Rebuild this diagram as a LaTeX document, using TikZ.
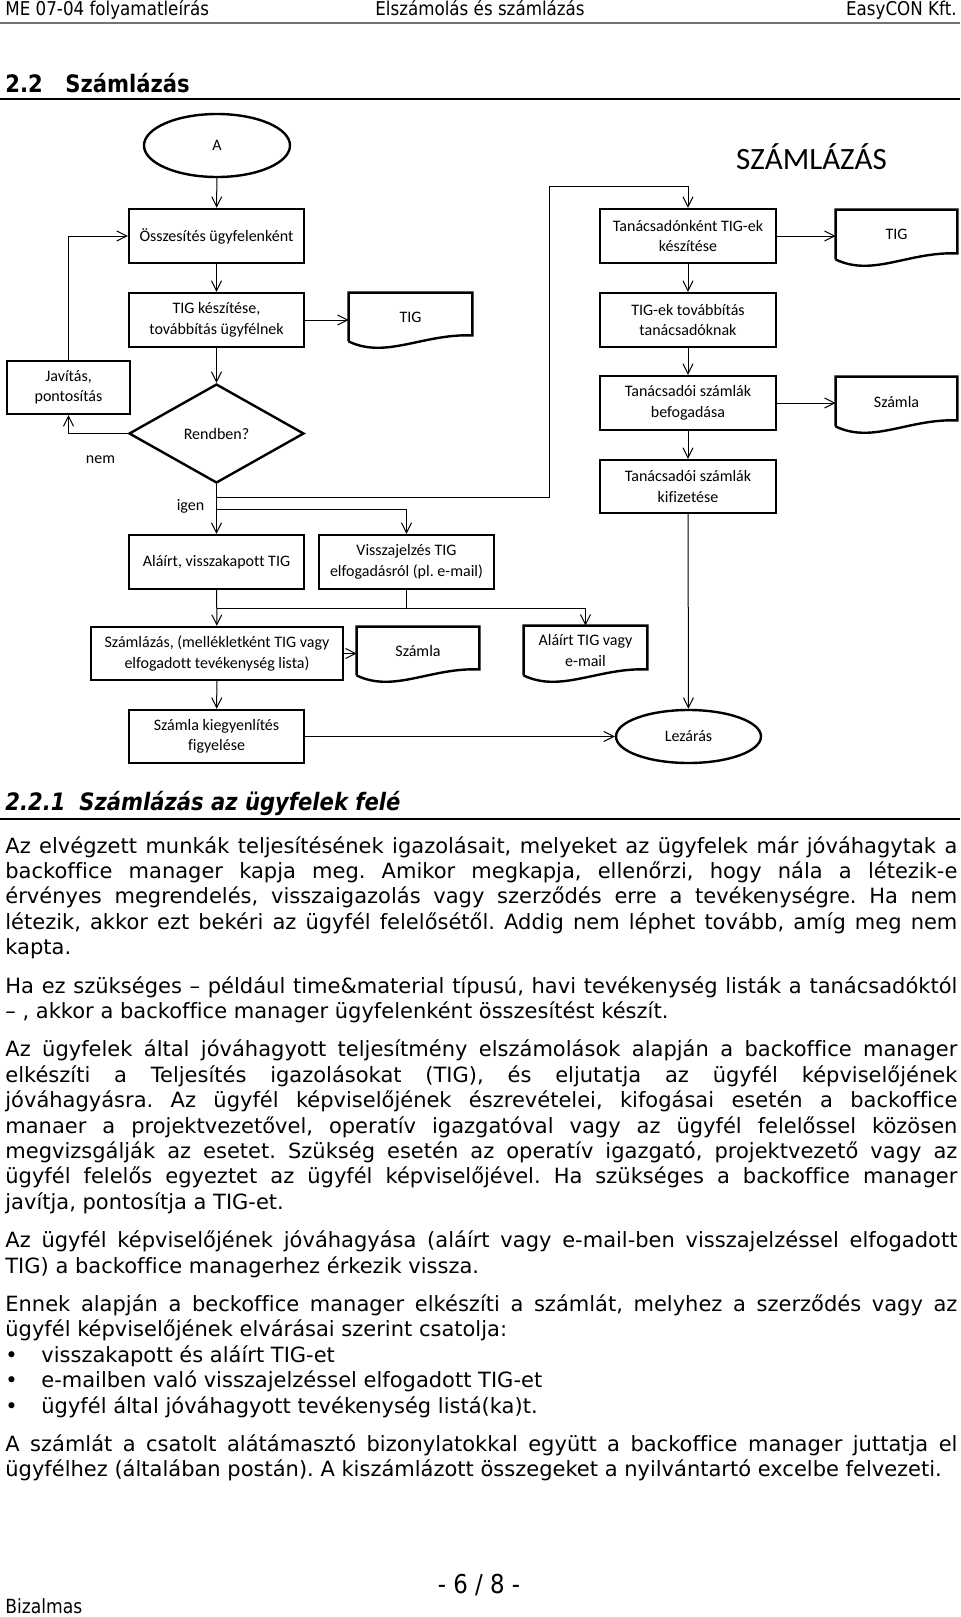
\documentclass[tikz,border=0pt]{standalone}
\usepackage{fontspec}
\usepackage{tikz}
\usetikzlibrary{shapes.geometric, arrows.meta, calc}
\newfontfamily\bodyfont[Ligatures=NoCommon]{DejaVu Sans}
\newfontfamily\headfont[FakeStretch=0.88, Ligatures=NoCommon]{DejaVu Sans}
\newfontfamily\calfont[Ligatures=NoCommon]{Carlito}

\newcommand{\flowsize}{\fontsize{8}{10.3}\calfont}
\newcommand{\full}[1]{\hbox to 476pt{#1}}
\newcommand{\wave}[1]{\draw [very thick] (#1.south west) -- (#1.north west) -- (#1.north east) -- ($(#1.south east)+(0,-6)$) .. controls +(-49,-2) and +(37,18) .. (#1.south west);}

\tikzstyle{box}  = [draw, very thick, rectangle, minimum width=87.5pt, minimum height=27pt, inner sep=1pt, align=center, font=\flowsize]
\tikzstyle{term} = [draw, very thick, ellipse, inner sep=0pt, minimum width=73pt, minimum height=31.5pt, font=\flowsize]
\tikzstyle{dec}  = [draw, very thick, diamond, inner sep=0pt, minimum width=87.5pt, minimum height=49.5pt, font=\flowsize]
\tikzstyle{docu} = [rectangle, inner sep=0pt, minimum width=61.5pt, minimum height=24pt, align=center, font=\flowsize]
\tikzstyle{lbl}  = [inner sep=0pt, font=\flowsize]
\tikzstyle{conn} = [draw, line width=0.5pt]
\tikzstyle{arr}  = [draw, line width=0.5pt, -{Straight Barb[length=5pt,width=5pt]}]
\tikzstyle{txt}  = [anchor=base west, inner sep=0pt, font=\fontsize{10.5}{12.7}\bodyfont]
\tikzstyle{head} = [inner sep=0pt, font=\fontsize{9.5}{11}\headfont]
\tikzstyle{sect} = [anchor=base west, inner sep=0pt, font=\fontsize{12}{14}\headfont\bfseries]

\begin{document}
\frenchspacing
\begin{tikzpicture}[x=0.5pt, y=-0.5pt]

\fill [white] (0,0) rectangle (960,1617);
\useasboundingbox (0,0) rectangle (960,1617);

% page header
\node [head, anchor=base west] at (5,15)   (hdl) {ME 07-04 folyamatleírás};
\node [head, anchor=base]      at (480,15) (hdm) {Elszámolás és számlázás};
\node [head, anchor=base east] at (957,15) (hdr) {EasyCON Kft.};
\draw [line width=1.2pt, black!55] (0,23) -- (960,23);

\node [sect] at (5,92)  (s22)  {2.2};
\node [sect] at (65,92) (s22t) {Számlázás};
\draw [line width=0.6pt] (0,99) -- (960,99);

% nodes
\node [font=\fontsize{15.5}{18}\calfont, inner sep=0pt, anchor=base] at (811.5,169) (title) {SZÁMLÁZÁS};

\node [term]                     at (217,145.5)   (start)    {A};
\node [box]                      at (216.5,236)   (osszes)   {Összesítés ügyfelenként};
\node [box]                      at (216.5,320)   (tigkesz)  {TIG készítése,\\továbbítás ügyfélnek};
\node [docu]                     at (410.5,317)   (tigdoc)   {TIG};
\node [box, minimum width=61.5pt, minimum height=26.5pt]
                                 at (68.5,387.5)  (javit)    {Javítás,\\pontosítás};
\node [dec]                      at (216.5,433.5) (rendben)  {Rendben?};
\node [box]                      at (216.5,562)   (alairt)   {Aláírt, visszakapott TIG};
\node [box]                      at (406.5,562)   (vissza)   {Visszajelzés TIG\\elfogadásról (pl. e-mail)};
\node [box, minimum width=126pt, minimum height=26.5pt]
                                 at (217,653.5)   (szamlaz)  {Számlázás, (mellékletként TIG vagy\\elfogadott tevékenység lista)};
\node [docu, minimum width=61pt] at (418,651)     (szdoc)    {Számla};
\node [docu, minimum height=24.5pt]
                                 at (585.5,650.5) (aldoc)    {Aláírt TIG vagy\\e-mail};
\node [box, minimum height=26.5pt]
                                 at (216.5,736.5) (kiegy)    {Számla kiegyenlítés\\figyelése};
\node [term, minimum width=72.5pt, minimum height=26.5pt]
                                 at (688.5,736.5) (lezaras)  {Lezárás};

\node [box, minimum width=88pt]  at (688,236)     (tanacs)   {Tanácsadónként TIG-ek\\készítése};
\node [docu, minimum width=60.5pt, minimum height=24.5pt]
                                 at (896.5,234.5) (tigdoc2)  {TIG};
\node [box, minimum width=88pt]  at (688,320)     (tovabb)   {TIG-ek továbbítás\\tanácsadóknak};
\node [box, minimum width=88pt]  at (688,403)     (befog)    {Tanácsadói számlák\\befogadása};
\node [docu, minimum width=60.5pt, minimum height=24.5pt]
                                 at (896.5,401.5) (szdoc2)   {Számla};
\node [box, minimum width=88pt, minimum height=26.5pt]
                                 at (688,486.5)   (kifiz)    {Tanácsadói számlák\\kifizetése};

\node [lbl] at (100.5,460) (nem)  {nem};
\node [lbl] at (190.5,506) (igen) {igen};

\wave{tigdoc}
\wave{tigdoc2}
\wave{szdoc}
\wave{szdoc2}
\wave{aldoc}

% edges
\coordinate (igen1) at (216.5,497);
\coordinate (igen2) at (216.5,509);
\coordinate (hurok) at (549,186);
\coordinate (gyujt) at (216.5,608);

\path [arr]
  (start)   edge (osszes)
  (osszes)  edge (tigkesz)
  (tigkesz) edge (rendben)
  (rendben) edge (alairt)
  (tanacs)  edge (tovabb)
  (tovabb)  edge (befog)
  (befog)   edge (kifiz)
  (kifiz)   edge (lezaras)
  (alairt)  edge (szamlaz)
  (szamlaz) edge (kiegy);

\draw [arr] (tigkesz.east) -- (tigkesz.east -| tigdoc.west);
\draw [arr] (tanacs.east) -- (tanacs.east -| tigdoc2.west);
\draw [arr] (befog.east) -- (befog.east -| szdoc2.west);
\draw [arr] (szamlaz.east) -- (szamlaz.east -| szdoc.west);
\draw [arr] (kiegy.east) -- (lezaras.west);

\draw [arr] (rendben.west) -| (javit.south);
\draw [arr] (javit.north) |- (osszes.west);
\draw [arr] (igen1) -| (hurok) -| (tanacs.north);
\draw [arr] (igen2) -| (vissza.north);

\draw [conn] (vissza.south) -- (vissza.south |- gyujt);
\draw [conn] (gyujt) -- (gyujt -| aldoc.north);
\draw [arr]  (gyujt -| aldoc.north) -- (aldoc.north);

% section text
\node [sect, font=\fontsize{12}{14}\headfont\bfseries\itshape] at (5,810)  (s221)  {2.2.1};
\node [sect, font=\fontsize{12}{14}\headfont\bfseries\itshape] at (79,810) (s221t) {Számlázás az ügyfelek felé};
\draw [line width=0.6pt] (0,819) -- (960,819);

\node [txt] at (5,853)    (p1a) {\full{Az elvégzett munkák teljesítésének igazolásait, melyeket az ügyfelek már jóváhagytak a}};
\node [txt] at (5,878.4)  (p1b) {\full{backoffice manager kapja meg. Amikor megkapja, ellenőrzi, hogy nála a létezik-e}};
\node [txt] at (5,903.8)  (p1c) {\full{érvényes megrendelés, visszaigazolás vagy szerződés erre a tevékenységre. Ha nem}};
\node [txt] at (5,929.2)  (p1d) {\full{létezik, akkor ezt bekéri az ügyfél felelősétől. Addig nem léphet tovább, amíg meg nem}};
\node [txt] at (5,954.6)  (p1e) {kapta.};

\node [txt] at (5,993)    (p2a) {\full{Ha ez szükséges – például time\&material típusú, havi tevékenység listák a tanácsadóktól}};
\node [txt] at (5,1018.4) (p2b) {– , akkor a backoffice manager ügyfelenként összesítést készít.};

\node [txt] at (5,1056.8) (p3a) {\full{Az ügyfelek által jóváhagyott teljesítmény elszámolások alapján a backoffice manager}};
\node [txt] at (5,1082.2) (p3b) {\full{elkészíti a Teljesítés igazolásokat (TIG), és eljutatja az ügyfél képviselőjének}};
\node [txt] at (5,1107.6) (p3c) {\full{jóváhagyásra. Az ügyfél képviselőjének észrevételei, kifogásai esetén a backoffice}};
\node [txt] at (5,1133)   (p3d) {\full{manaer a projektvezetővel, operatív igazgatóval vagy az ügyfél felelőssel közösen}};
\node [txt] at (5,1158.4) (p3e) {\full{megvizsgálják az esetet. Szükség esetén az operatív igazgató, projektvezető vagy az}};
\node [txt] at (5,1183.8) (p3f) {\full{ügyfél felelős egyeztet az ügyfél képviselőjével. Ha szükséges a backoffice manager}};
\node [txt] at (5,1209.2) (p3g) {javítja, pontosítja a TIG-et.};

\node [txt] at (5,1247.6) (p4a) {\full{Az ügyfél képviselőjének jóváhagyása (aláírt vagy e-mail-ben visszajelzéssel elfogadott}};
\node [txt] at (5,1273)   (p4b) {TIG) a backoffice managerhez érkezik vissza.};

\node [txt] at (5,1311.4) (p5a) {\full{Ennek alapján a beckoffice manager elkészíti a számlát, melyhez a szerződés vagy az}};
\node [txt] at (5,1336.8) (p5b) {ügyfél képviselőjének elvárásai szerint csatolja:};
\node [txt] at (5,1362.2) (b1)  {•};
\node [txt] at (41,1362.2) (b1t) {visszakapott és aláírt TIG-et};
\node [txt] at (5,1387.6) (b2)  {•};
\node [txt] at (41,1387.6) (b2t) {e-mailben való visszajelzéssel elfogadott TIG-et};
\node [txt] at (5,1413)   (b3)  {•};
\node [txt] at (41,1413)  (b3t) {ügyfél által jóváhagyott tevékenység listá(ka)t.};

\node [txt] at (5,1451.4) (p6a) {\full{A számlát a csatolt alátámasztó bizonylatokkal együtt a backoffice manager juttatja el}};
\node [txt] at (5,1476.8) (p6b) {ügyfélhez (általában postán). A kiszámlázott összegeket a nyilvántartó excelbe felvezeti.};

% page footer
\node [head, anchor=base, font=\fontsize{13}{15}\headfont] at (479,1593) (oldal) {- 6 / 8 -};
\node [head, anchor=base west, font=\fontsize{9.75}{11}\headfont] at (5,1613.5) (biz) {Bizalmas};

\end{tikzpicture}
\end{document}
